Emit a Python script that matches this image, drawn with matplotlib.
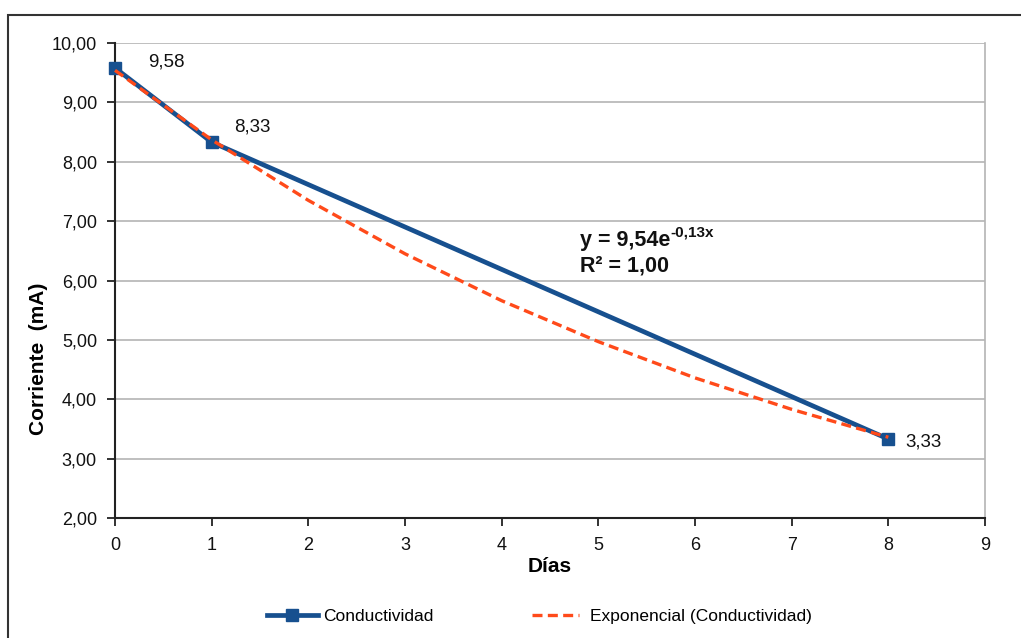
import matplotlib
matplotlib.use("Agg")
import matplotlib.pyplot as plt
from matplotlib.patches import Rectangle

plt.rcParams['font.family'] = ['Liberation Sans', 'DejaVu Sans']

# Data
dias = [0, 1, 8]
corriente = [9.58, 8.33, 3.33]
labels = ["9,58", "8,33", "3,33"]
trend_x = [0, 1, 2, 3, 4, 5, 6, 7, 8]
trend_y = [9.54, 8.37, 7.35, 6.45, 5.66, 4.97, 4.36, 3.83, 3.36]
yticks = [2, 3, 4, 5, 6, 7, 8, 9, 10]
ytick_labels = ["2,00", "3,00", "4,00", "5,00", "6,00", "7,00", "8,00", "9,00", "10,00"]
xticks = [0, 1, 2, 3, 4, 5, 6, 7, 8, 9]

W, H = 1021, 638
fig = plt.figure(figsize=(W / 100, H / 100), dpi=100)
ax = fig.add_axes([115 / W, (H - 518) / H, (985 - 115) / W, (518 - 43) / H])

blue = '#17508F'
orange = '#FF4A1A'

l1, = ax.plot(dias, corriente, color=blue, lw=3.4, marker='s', ms=8,
              label='Conductividad', zorder=3, clip_on=False)
l2, = ax.plot(trend_x, trend_y, color=orange, lw=2.4, ls=(0, (3, 1.6)),
              label='Exponencial (Conductividad)', zorder=4, clip_on=False)

offsets = [(24, 4), (16, 11), (12, -2)]
for x, y, t, off in zip(dias, corriente, labels, offsets):
    ax.annotate(t, (x, y), xytext=off, textcoords='offset points',
                ha='left', va='center', fontsize=13.5, color='#111111')

ax.set_xlim(0, 9)
ax.set_ylim(2, 10)
ax.set_yticks(yticks)
ax.set_yticklabels(ytick_labels)
ax.set_xticks(xticks)
ax.tick_params(axis='both', labelsize=13, direction='out', length=6, width=1.3,
               colors='#222222', labelcolor='#111111')
ax.tick_params(axis='y', pad=7)
ax.tick_params(axis='x', pad=8)
ax.yaxis.grid(True, color='#B4B4B4', lw=1.2)
ax.set_axisbelow(True)
for s in ['left', 'bottom']:
    ax.spines[s].set_color('#222222')
    ax.spines[s].set_linewidth(1.5)
ax.spines['top'].set_visible(False)
ax.spines['right'].set_color('#B4B4B4')
ax.spines['right'].set_linewidth(1.2)

ax.set_xlabel('Días', fontsize=15, fontweight='bold', labelpad=2)
ax.set_ylabel('Corriente  (mA)', fontsize=15, fontweight='bold')
ax.yaxis.set_label_coords(-0.077, 0.335)

t1 = ax.text(4.81, 6.68, 'y = 9,54e', fontsize=15.5, fontweight='bold',
             ha='left', va='center', color='#111111')
ax.annotate('-0,13x', xy=(1, 0.85), xycoords=t1, fontsize=11, fontweight='bold',
            ha='left', va='center', color='#111111')
ax.text(4.81, 6.24, 'R² = 1,00', fontsize=15.5, fontweight='bold',
        ha='left', va='center', color='#111111')

ly = (H - 616) / H
leg1 = fig.legend(handles=[l1], loc='center left', bbox_to_anchor=(267 / W, ly),
                  frameon=False, fontsize=12.5, handlelength=2.93,
                  handletextpad=0.29, borderpad=0, borderaxespad=0)
leg2 = fig.legend(handles=[l2], loc='center left', bbox_to_anchor=(532 / W, ly),
                  frameon=False, fontsize=12.5, handlelength=2.7,
                  handletextpad=0.63, borderpad=0, borderaxespad=0)

fig.patches.append(Rectangle((8 / W, -0.05), 1.2, (H - 15) / H + 0.05,
                             transform=fig.transFigure, fill=False,
                             edgecolor='#333333', lw=1.5))

fig.savefig('out.png', dpi=100)
